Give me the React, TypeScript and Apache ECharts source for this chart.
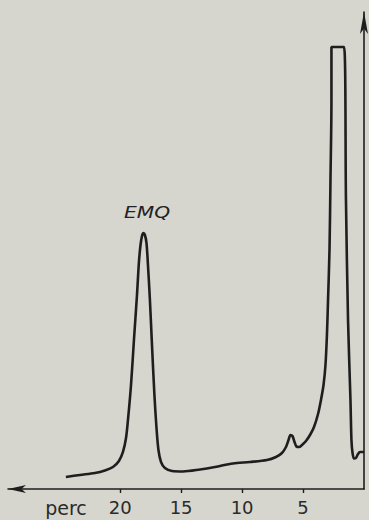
import React, { useEffect, useRef } from "react";
import * as echarts from "echarts";

// retention time (minutes), left to right
const timeMin = [
  24.45, 23.3, 22.07, 21.25, 20.59, 20.1, 19.77, 19.52, 19.36, 19.11, 18.87, 18.62, 18.46, 18.33, 18.21,
  18.09, 17.97, 17.84, 17.72, 17.56, 17.39, 17.19, 17.02, 16.86, 16.65, 16.33, 15.75, 14.85, 13.45, 12.22,
  10.75, 9.35, 7.96, 7.22, 6.73, 6.4, 6.19, 6.03, 5.87, 5.7, 5.54, 5.33, 5.09, 4.76, 4.43, 4.1, 3.77, 3.53,
  3.32, 3.16, 3.04, 2.95, 2.83, 2.75, 2.67, 2.67, 1.64, 1.48, 1.31, 1.11, 1.03, 0.94, 0.82, 0.66, 0.49, 0.33, 0.0,
];
// detector signal (arbitrary units, 0-100)
const signal = [
  2.52, 2.94, 3.35, 3.88, 4.61, 5.87, 7.76, 10.69, 14.47, 21.8, 31.24, 40.67, 47.59, 51.15, 53.04,
  53.67, 53.25, 51.57, 46.96, 39.62, 30.19, 19.71, 12.79, 8.18, 5.66, 4.4, 3.77, 3.67, 4.09, 4.61,
  5.35, 5.66, 6.08, 6.71, 7.55, 8.81, 10.27, 11.32, 11.11, 9.85, 8.91, 8.81, 9.22, 10.06, 11.32, 13.0, 15.72, 18.66,
  21.8, 26.0, 32.29, 39.62, 50.1, 64.78, 81.55, 92.66, 92.66, 60.59, 35.43, 18.66, 10.27, 7.55, 6.39, 6.5, 7.34, 7.76, 7.76,
];
const tickValues = [5, 10, 15, 20];
const axisTitle = "perc";
const peakLabel = "EMQ";

export default function App() {
  const ref = useRef<HTMLDivElement>(null);
  useEffect(() => {
    document.body.style.margin = "0";
    const chart = echarts.init(ref.current!, null, { renderer: "svg" });
    const ink = "#1e1e1e";
    chart.setOption({
      animation: false,
      backgroundColor: "#d6d6ce",
      grid: { left: 8, right: 5, top: 12, bottom: 31 },
      xAxis: {
        type: "value",
        inverse: true,
        min: 0,
        max: 29.2,
        splitLine: { show: false },
        axisLine: {
          show: true,
          lineStyle: { color: ink, width: 1.6 },
          symbol: ["arrow", "none"],
          symbolSize: [6, 18],
        },
        axisTick: { show: true, customValues: tickValues, length: 4, lineStyle: { color: ink, width: 1.4 } },
        axisLabel: {
          customValues: tickValues,
          fontSize: 18,
          color: "#2a2a2a",
          fontFamily: "DejaVu Sans",
          margin: 9,
        },
      },
      yAxis: {
        type: "value",
        position: "right",
        min: 0,
        max: 100,
        splitLine: { show: false },
        axisLabel: { show: false },
        axisTick: { show: false },
        axisLine: {
          show: true,
          onZero: false,
          lineStyle: { color: ink, width: 1.6 },
          symbol: ["none", "arrow"],
          symbolSize: [6, 22],
        },
      },
      series: [
        {
          type: "line",
          data: timeMin.map((t, i) => [t, signal[i]]),
          showSymbol: false,
          smooth: 0.3,
          lineStyle: { color: ink, width: 2.6 },
          clip: false,
        },
      ],
      graphic: [
        {
          type: "text",
          x: 147,
          y: 213,
          scaleX: 1.35,
          style: {
            text: peakLabel,
            fill: "#222",
            font: "italic 15px 'DejaVu Sans'",
            align: "center",
            verticalAlign: "middle",
          },
        },
        {
          type: "text",
          x: 66,
          y: 508,
          style: {
            text: axisTitle,
            fill: "#2a2a2a",
            font: "19px 'DejaVu Sans'",
            align: "center",
            verticalAlign: "middle",
          },
        },
      ],
    });
    return () => chart.dispose();
  }, []);
  return <div ref={ref} style={{ width: 369, height: 520 }} />;
}
